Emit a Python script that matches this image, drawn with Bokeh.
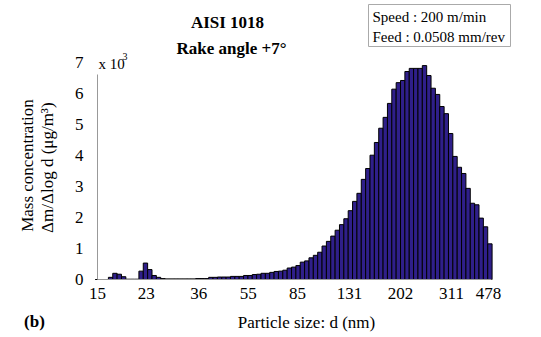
import numpy as np
from bokeh.plotting import figure
from bokeh.models import Range1d, FixedTicker, Label
from bokeh.embed import file_html
from bokeh.resources import INLINE

# Bin index (size channels, starting at 15 nm)
bin_index = list(range(91))

# Mass concentration (ug/m3) per bin
mass_conc = [
    0, 0, 0, 70, 200, 170, 90, 10, 10, 10,
    270, 530, 320, 130, 70, 30, 20, 20, 20, 20,
    20, 20, 20, 30, 30, 30, 70, 70, 80, 80,
    80, 100, 100, 100, 130, 130, 160, 170, 200, 200,
    230, 260, 270, 300, 370, 400, 450, 560, 600, 700,
    780, 880, 1080, 1230, 1400, 1590, 1770, 1960, 2220, 2520,
    2780, 3230, 3580, 4010, 4420, 4880, 5230, 5680, 6140, 6350,
    6420, 6710, 6810, 6810, 6810, 6900, 6580, 6170, 5970, 5580,
    5350, 4710, 3970, 3620, 3420, 2940, 2460, 2410, 1980, 1700,
    1150,
]

# Tick label positions (in bin units) and their texts
tick_positions = [0, 11.2, 23.2, 34.6, 45.9, 57.8, 69.5, 81.2, 89.7]
tick_labels = ["15", "23", "36", "55", "85", "131", "202", "311", "478"]
y_ticks = [0, 1000, 2000, 3000, 4000, 5000, 6000, 7000]
y_tick_labels = ["0", "1", "2", "3", "4", "5", "6", "7"]

W, H = 533, 333
AX_X, AX_Y = 97.0, 279.0      # canvas px of the axes origin
PXB = 4.36                    # px per bin
PXU = 31.0 / 1000.0           # px per ug/m3


def dx(px):
    return (px - AX_X) / PXB


def dy(py):
    return (AX_Y - py) / PXU


p = figure(width=W, height=H, output_backend="svg", toolbar_location=None,
           x_range=Range1d(dx(0), dx(W)), y_range=Range1d(dy(H), dy(0)),
           min_border_left=0, min_border_right=0, min_border_top=0, min_border_bottom=0)
p.outline_line_color = None
p.xgrid.visible = False
p.ygrid.visible = False
p.background_fill_color = "white"
p.border_fill_color = "white"

p.vbar(x=bin_index, top=mass_conc, width=1.0, fill_color="#2f1f8a",
       line_color="black", line_width=1)

SERIF = "Liberation Serif"

xa = p.xaxis[0]
xa.fixed_location = 0
xa.bounds = (0, 90.4)
xa.ticker = FixedTicker(ticks=tick_positions)
xa.major_label_overrides = {t: l for t, l in zip(tick_positions, tick_labels)}
xa.major_tick_line_color = None
xa.minor_tick_line_color = None
xa.major_tick_out = 0
xa.major_tick_in = 0
xa.major_label_standoff = 8
xa.axis_line_color = "#999999"
xa.major_label_text_font = SERIF
xa.major_label_text_font_size = "17px"
xa.major_label_text_color = "black"

ya = p.yaxis[0]
ya.fixed_location = 0
ya.bounds = (0, 7000)
ya.ticker = FixedTicker(ticks=y_ticks)
ya.major_label_overrides = {t: l for t, l in zip(y_ticks, y_tick_labels)}
ya.major_tick_line_color = None
ya.minor_tick_line_color = None
ya.major_tick_out = 0
ya.major_tick_in = 0
ya.major_label_standoff = 14
ya.axis_line_color = None
ya.major_label_text_font = SERIF
ya.major_label_text_font_size = "17px"
ya.major_label_text_color = "black"

# visible part of the y axis line (stops a little below the top tick, as in the original)
p.segment(x0=[0], y0=[0], x1=[0], y1=[dy(74)], line_color="#999999", line_width=1)


def lab(text, px, py, size="17px", bold=False, align="center", baseline="middle", angle=0.0, **kw):
    p.add_layout(Label(x=dx(px), y=dy(py), text=text, text_font=SERIF,
                       text_font_size=size, text_font_style="bold" if bold else "normal",
                       text_align=align, text_baseline=baseline, angle=angle,
                       text_color="black", **kw))


lab("AISI 1018", 227, 22, bold=True)
lab("Rake angle +7°", 231, 48, bold=True)
lab("x 10", 98, 63, size="15px", align="left")
lab("3", 122, 56, size="10px", align="left")
lab("Mass concentration", 27, 165, angle=np.pi / 2)
lab("Δm/Δlog d  (μg/m³)", 47, 165, angle=np.pi / 2)
lab("Particle size: d (nm)", 306, 322)
lab("(b)", 34, 321, bold=True)

p.quad(left=dx(368), right=dx(510), top=dy(4), bottom=dy(46),
       fill_color="white", line_color="#aaaaaa", line_width=1)
lab("Speed : 200 m/min", 372, 16, size="15px", align="left")
lab("Feed : 0.0508 mm/rev", 372, 36, size="15px", align="left")

open("out.html", "w").write(file_html(p, INLINE))
